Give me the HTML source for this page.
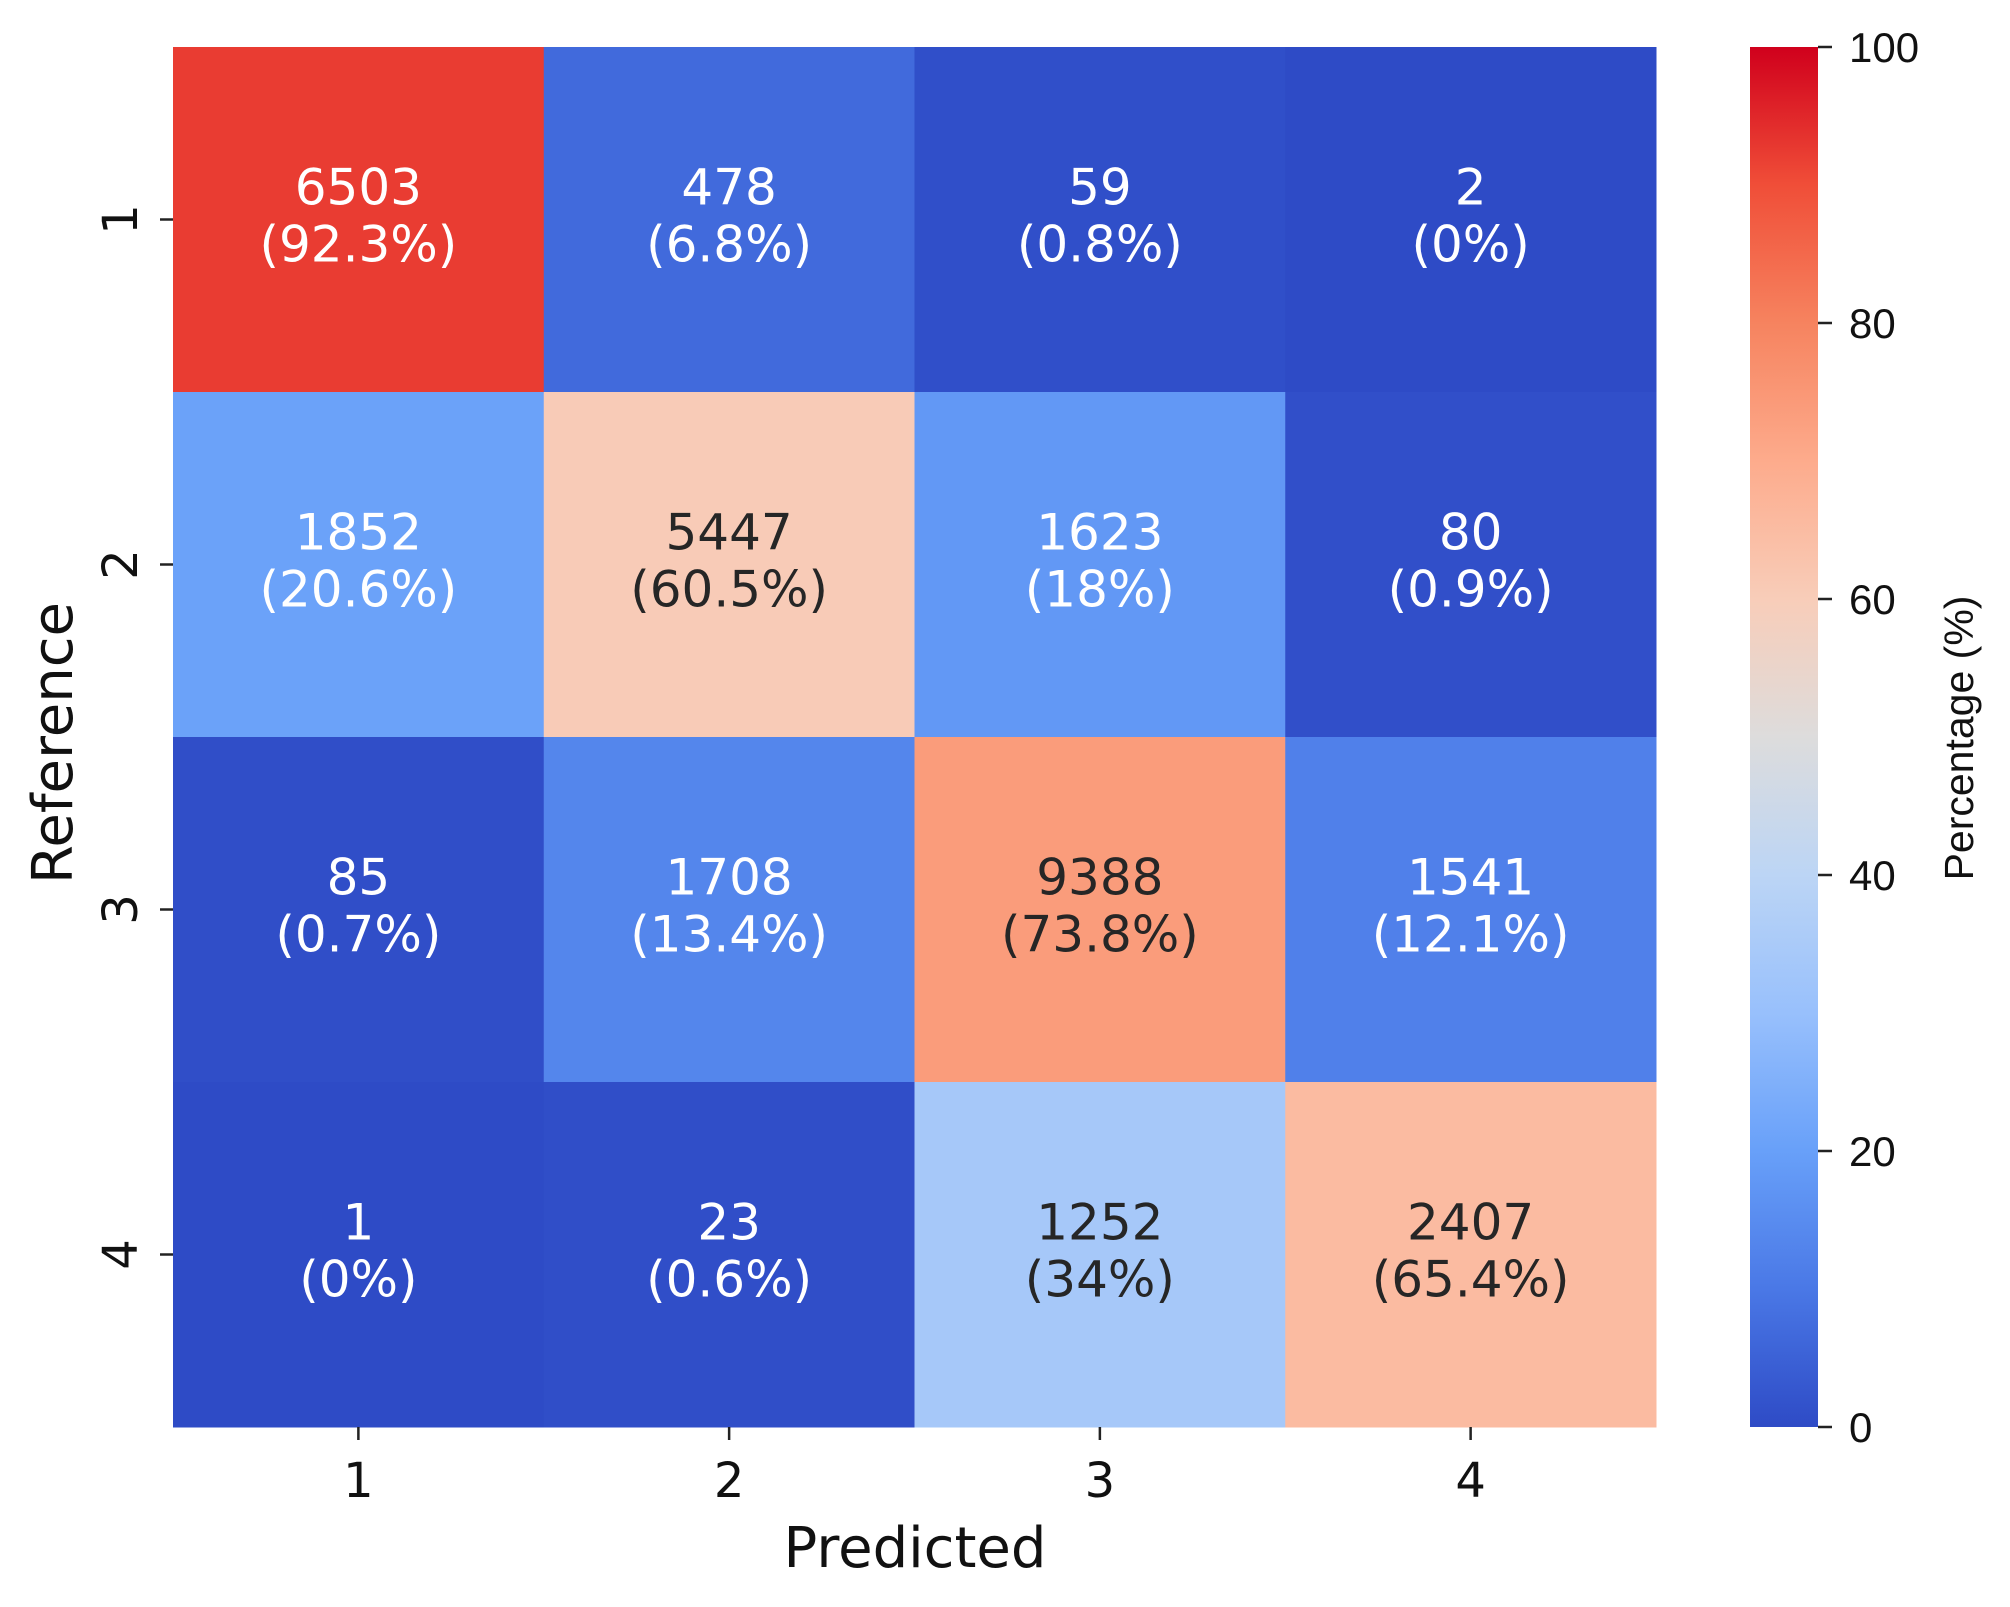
<!DOCTYPE html>
<html><head><meta charset="utf-8"><style>
html,body{margin:0;padding:0;background:#fff;width:2010px;height:1607px;overflow:hidden}
svg{display:block}
</style></head><body>
<svg id="chart" width="2010" height="1607" viewBox="0 0 2010 1607" xmlns="http://www.w3.org/2000/svg">
<defs>
<linearGradient id="cbar" x1="0" y1="1" x2="0" y2="0">
<stop offset="0" stop-color="#2e4bc6"/><stop offset="0.1" stop-color="#4a78e6"/><stop offset="0.2" stop-color="#68a0f9"/><stop offset="0.3" stop-color="#98c0fc"/><stop offset="0.4" stop-color="#bcd5f5"/><stop offset="0.5" stop-color="#dddcdc"/><stop offset="0.6" stop-color="#f8cdb9"/><stop offset="0.7" stop-color="#fdab8c"/><stop offset="0.8" stop-color="#f6835f"/><stop offset="0.9" stop-color="#f04e38"/><stop offset="1" stop-color="#d0001c"/>
</linearGradient>
</defs>
<g id="cells"></g>
<g id="axes"></g>
<rect x="1750" y="47" width="68" height="1380" fill="url(#cbar)"/>
<text x="915" y="1567" font-family="DejaVu Sans, sans-serif" font-size="56" text-anchor="middle" fill="#111">Predicted</text>
<text transform="translate(72,743) rotate(-90)" font-family="DejaVu Sans, sans-serif" font-size="56" text-anchor="middle" fill="#111">Reference</text>
<text transform="translate(1973,738) rotate(-90)" font-family="Liberation Sans, sans-serif" font-size="41" text-anchor="middle" fill="#111">Percentage (%)</text>
</svg>
<script>
const categories = ["1","2","3","4"];
const counts = [[6503,478,59,2],[1852,5447,1623,80],[85,1708,9388,1541],[1,23,1252,2407]];
const percents = [[92.3,6.8,0.8,0],[20.6,60.5,18,0.9],[0.7,13.4,73.8,12.1],[0,0.6,34,65.4]];
const cbarTicks = [0,20,40,60,80,100];

const NS="http://www.w3.org/2000/svg";
const X0=173,X1=1656,Y0=47,Y1=1427;
const cw=(X1-X0)/categories.length, ch=(Y1-Y0)/categories.length;
const xPos=i=>X0+i*cw, yPos=i=>Y0+i*ch;
const cbY=v=>Y1-(v/100)*(Y1-Y0);
const stops=[[0,"#2e4bc6"],[10,"#4a78e6"],[20,"#68a0f9"],[30,"#98c0fc"],[40,"#bcd5f5"],[50,"#dddcdc"],[60,"#f8cdb9"],[70,"#fdab8c"],[80,"#f6835f"],[90,"#f04e38"],[100,"#d0001c"]];
function hex(h){return [1,3,5].map(k=>parseInt(h.substr(k,2),16));}
function cmap(v){
  for(let i=0;i<stops.length-1;i++){
    if(v<=stops[i+1][0]){
      const t=(v-stops[i][0])/(stops[i+1][0]-stops[i][0]);
      const a=hex(stops[i][1]),b=hex(stops[i+1][1]);
      const c=a.map((x,k)=>Math.round(x+(b[k]-x)*t));
      return {css:`rgb(${c[0]},${c[1]},${c[2]})`,lum:(0.299*c[0]+0.587*c[1]+0.114*c[2])};
    }
  }
  return {css:stops[stops.length-1][1],lum:60};
}
function mk(tag,attrs){const e=document.createElementNS(NS,tag);for(const k in attrs)e.setAttribute(k,attrs[k]);return e;}
const cells=document.getElementById('cells'), axes=document.getElementById('axes');
counts.forEach((row,r)=>row.forEach((cnt,c)=>{
  const p=percents[r][c]; const col=cmap(p);
  const rect=mk('rect',{x:xPos(c),y:yPos(r),width:cw+0.5,height:ch+0.5,fill:col.css});
  
  
  cells.appendChild(rect);
  const tc=col.lum>170?'#262626':'#ffffff';
  const cx=xPos(c)+cw/2, cy=yPos(r)+ch/2;
  const t1=mk('text',{x:cx,y:cy-15,'text-anchor':'middle','font-family':'DejaVu Sans, sans-serif','font-size':50,fill:tc});
  t1.textContent=String(cnt);
  
  
  cells.appendChild(t1);
  const t2=mk('text',{x:cx,y:cy+42,'text-anchor':'middle','font-family':'DejaVu Sans, sans-serif','font-size':50,fill:tc});
  t2.textContent='('+p+'%)';
  
  
  cells.appendChild(t2);
}));
categories.forEach((lab,i)=>{
  const cx=xPos(i)+cw/2;
  const tk=mk('line',{x1:cx,x2:cx,y1:Y1,y2:Y1+13,stroke:'#222','stroke-width':2.5});
  
  
  axes.appendChild(tk);
  const tl=mk('text',{x:cx,y:1497,'text-anchor':'middle','font-family':'DejaVu Sans, sans-serif','font-size':48,fill:'#111'});
  tl.textContent=lab;
  
  
  axes.appendChild(tl);
  const cy=yPos(i)+ch/2;
  const yk=mk('line',{x1:X0-13,x2:X0,y1:cy,y2:cy,stroke:'#222','stroke-width':2.5});
  
  
  axes.appendChild(yk);
  const yl=mk('text',{transform:`translate(137,${cy}) rotate(-90)`,'text-anchor':'middle','font-family':'DejaVu Sans, sans-serif','font-size':48,fill:'#111'});
  yl.textContent=lab;
  
  
  axes.appendChild(yl);
});
cbarTicks.forEach(v=>{
  const y=cbY(v);
  const k=mk('line',{x1:1818,x2:1832,y1:y,y2:y,stroke:'#222','stroke-width':2.5});
  
  
  axes.appendChild(k);
  const t=mk('text',{x:1849,y:y+15,'font-family':'Liberation Sans, sans-serif','font-size':42,fill:'#111'});
  t.textContent=String(v);
  
  
  axes.appendChild(t);
});
</script>
</body></html>
